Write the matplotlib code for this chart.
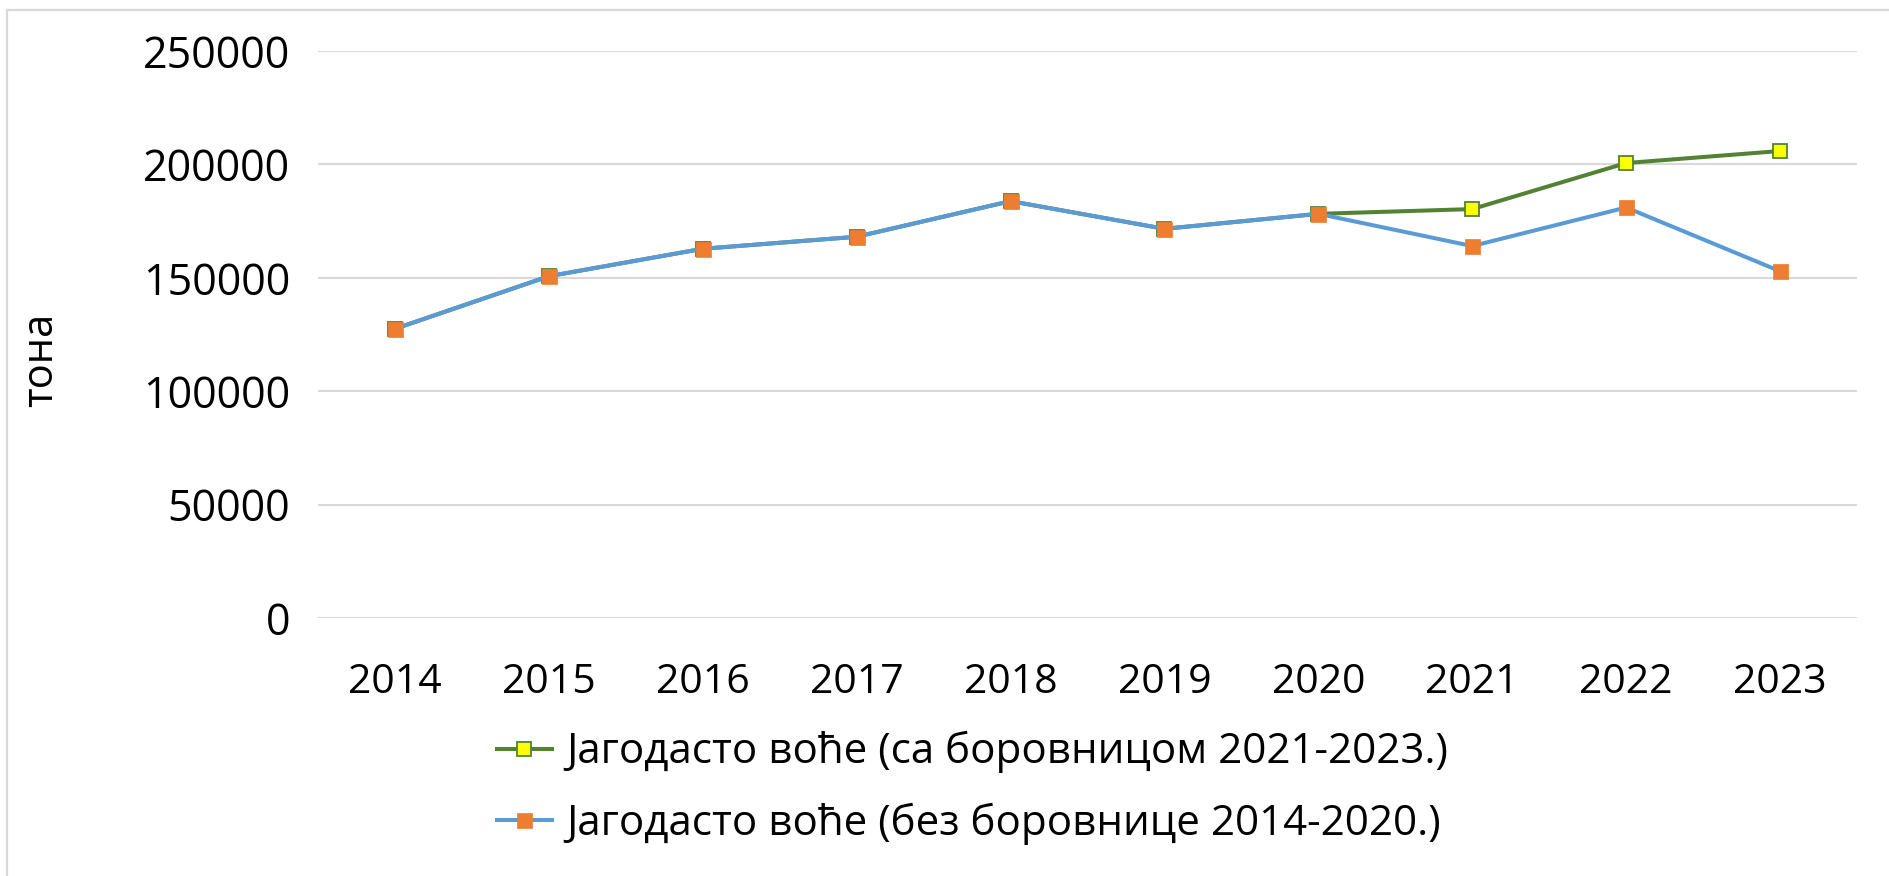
import matplotlib
matplotlib.use("Agg")
import matplotlib.pyplot as plt
from matplotlib.lines import Line2D

plt.rcParams['font.family'] = ['Open Sans', 'DejaVu Sans']

years = ['2014', '2015', '2016', '2017', '2018', '2019', '2020', '2021', '2022', '2023']
with_blueberry = [127500, 150700, 162800, 168100, 183800, 171600, 178200, 180300, 200600, 205900]
without_blueberry = [127500, 150700, 162800, 168100, 183800, 171600, 178200, 164000, 181000, 152900]
label_with = 'Јагодасто воће (са боровницом 2021-2023.)'
label_without = 'Јагодасто воће (без боровнице 2014-2020.)'
y_ticks = [0, 50000, 100000, 150000, 200000, 250000]
y_label = 'тона'

W, H = 1890, 876
fig = plt.figure(figsize=(W / 100, H / 100), dpi=100)
fig.patch.set_facecolor('white')

ax = fig.add_axes([318 / W, 1 - 618 / H, (1857 - 318) / W, (618 - 51) / H])
x = list(range(len(years)))

ax.plot(x, with_blueberry, color='#548235', lw=2.9, marker='s', markersize=10.5,
        markerfacecolor='#FFFF00', markeredgecolor='#548235', markeredgewidth=1.3,
        label=label_with, zorder=3)
ax.plot(x, without_blueberry, color='#5B9BD5', lw=2.9, marker='s', markersize=10.8,
        markerfacecolor='#ED7D31', markeredgecolor='#ED7D31', markeredgewidth=0.5,
        label=label_without, zorder=4)

ax.set_xlim(-0.5, len(years) - 0.5)
ax.set_ylim(0, 250000)
ax.set_yticks(y_ticks)
ax.set_yticklabels([str(v) for v in y_ticks])
ax.set_xticks(x)
ax.set_xticklabels(years)
ax.grid(axis='y', color='#d9d9d9', lw=1.5, zorder=0)
ax.set_axisbelow(True)
for s in ax.spines.values():
    s.set_visible(False)
ax.tick_params(axis='both', length=0, colors='black')
ax.tick_params(axis='y', pad=20, labelsize=31)
ax.tick_params(axis='x', pad=32, labelsize=29.5)

fig.text(41 / W, 1 - 360 / H, y_label, rotation=90, fontsize=30,
         ha='center', va='center')

leg = fig.legend(loc='center left', bbox_to_anchor=(497 / W, 1 - 788 / H),
                 frameon=False, fontsize=30.3, handlelength=1.3, handletextpad=0.35,
                 labelspacing=0.7, borderpad=0, borderaxespad=0)

# outer chart frame
fig.add_artist(Line2D([7 / W, 1.0], [1 - 10 / H, 1 - 10 / H], color='#d9d9d9', lw=1.6,
                      transform=fig.transFigure))
fig.add_artist(Line2D([7 / W, 7 / W], [1 - 10 / H, 0.0], color='#d9d9d9', lw=1.6,
                      transform=fig.transFigure))

fig.savefig('out.png', dpi=100, facecolor='white')
